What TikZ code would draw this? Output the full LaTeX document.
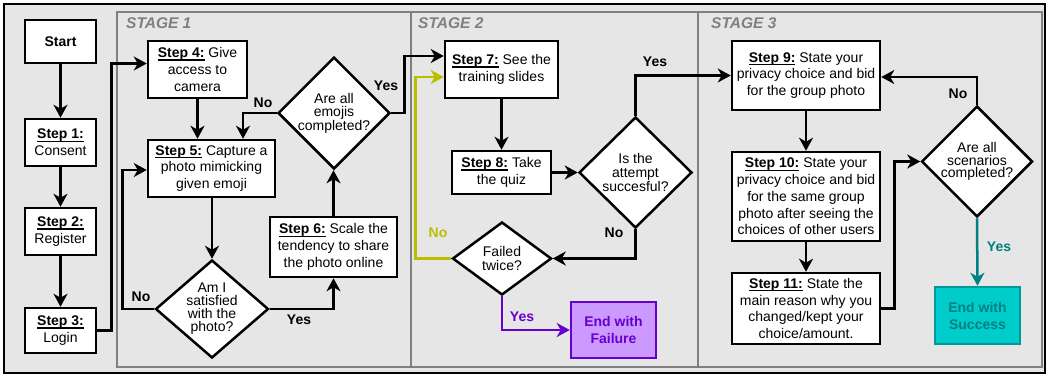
\documentclass[tikz,border=0pt]{standalone}
\usepackage{fontspec}
\setmainfont{Liberation Sans}
\usetikzlibrary{arrows.meta,shapes.geometric}
\definecolor{bggrey}{HTML}{E6E6E6}
\definecolor{stagegrey}{HTML}{808080}
\definecolor{olivey}{HTML}{BDBD00}
\definecolor{purp}{HTML}{6600CC}
\definecolor{purpfill}{HTML}{CC99FF}
\definecolor{tealline}{HTML}{008080}
\definecolor{succfill}{HTML}{00CCCC}
\definecolor{succborder}{HTML}{009999}
\newcommand\stp[1]{\textbf{\setbox0\hbox{#1}\rlap{\rule[-3pt]{\wd0}{1.3pt}}\box0}}
\begin{document}
\begin{tikzpicture}[x=1pt,y=-1pt,
  box/.style={draw, fill=white, line width=2.5pt, align=center, inner sep=0pt,
    font=\fontsize{14}{16.8}\selectfont},
  dia/.style={draw, fill=white, line width=2.5pt, shape=diamond, inner sep=0pt},
  dtext/.style={align=center, inner sep=0pt},
  arr/.style={line width=2.5pt, -{Stealth[length=13pt,width=14pt,inset=4pt]}},
  lab/.style={font=\fontsize{14}{16}\selectfont\bfseries, inner sep=0pt},
  stagebox/.style={draw=stagegrey, line width=2.5pt},
  stagelab/.style={font=\fontsize{15.5}{18}\selectfont\bfseries\itshape, text=stagegrey, anchor=west, inner sep=0pt}
]
\useasboundingbox (0,0) rectangle (1048,376);
\draw[line width=2.5pt, fill=bggrey] (4,4) rectangle (1045,373);
\draw[stagebox] (117,12) rectangle (411,367);
\draw[stagebox] (411,12) rectangle (698,367);
\draw[stagebox] (698,12) rectangle (1042,367);
\node[stagelab] (st1) at (126,23) {STAGE 1};
\node[stagelab] (st2) at (418,23) {STAGE 2};
\node[stagelab] (st3) at (711,23) {STAGE 3};

% boxes
\node[box, minimum width=71, minimum height=43] (start) at (60.5,41.5) {\textbf{Start}};
\node[box, minimum width=71, minimum height=47] (s1) at (60.5,142.5) {\stp{Step 1:}\\Consent};
\node[box, minimum width=71, minimum height=47] (s2) at (60.5,231.5) {\stp{Step 2:}\\Register};
\node[box, minimum width=71, minimum height=45] (s3) at (60.5,330.5) {\stp{Step 3:}\\Login};
\node[box, minimum width=99, minimum height=57] (s4) at (197.5,69.5) {\stp{Step 4:} Give\\access to\\camera};
\node[box, minimum width=127, minimum height=57] (s5) at (211.5,168.5) {\stp{Step 5:} Capture a\\photo mimicking\\given emoji};
\node[box, minimum width=127, minimum height=60] (s6) at (333.5,247) {\stp{Step 6:} Scale the\\tendency to share\\the photo online};
\node[box, minimum width=113, minimum height=57] (s7) at (501.5,69.5) {\stp{Step 7:} See the\\training slides};
\node[box, minimum width=99, minimum height=43] (s8) at (501.5,172.5) {\stp{Step 8:} Take\\the quiz};
\node[box, minimum width=148, minimum height=69] (s9) at (806,75.5) {\stp{Step 9:} State your\\privacy choice and bid\\for the group photo};
\node[box, minimum width=148, minimum height=89, font=\fontsize{14}{16.7}\selectfont] (s10) at (806,196.5) {\stp{Step 10:} State your\\privacy choice and bid\\for the same group\\photo after seeing the\\choices of other users};
\node[box, minimum width=148, minimum height=71] (s11) at (806,308.5) {\stp{Step 11:} State the\\main reason why you\\changed/kept your\\choice/amount.};
\node[box, minimum width=85, minimum height=56, draw=purp, fill=purpfill, text=purp, font=\fontsize{14}{17}\selectfont\bfseries] (fail) at (613.5,330) {End with\\Failure};
\node[box, minimum width=85, minimum height=57, draw=succborder, fill=succfill, text=tealline, font=\fontsize{14}{17}\selectfont\bfseries] (succ) at (977.5,315.5) {End with\\Success};

% diamonds
\node[dia, minimum width=112, minimum height=112,
  label={[dtext, font=\fontsize{14}{13}\selectfont]center:Are all\\emojis\\completed?}] (d1) at (334,113) {};
\node[dia, minimum width=113, minimum height=98,
  label={[dtext, font=\fontsize{14}{13}\selectfont]center:Am I\\satisfied\\with the\\photo?}] (d2) at (212,309) {};
\node[dia, minimum width=113, minimum height=111,
  label={[dtext, font=\fontsize{14}{14}\selectfont]center:Is the\\attempt\\succesful?}] (d3) at (635.5,172.5) {};
\node[dia, minimum width=99, minimum height=73,
  label={[dtext, font=\fontsize{14}{14.3}\selectfont]center:Failed\\twice?}] (d4) at (502,258.5) {};
\node[dia, minimum width=111, minimum height=111,
  label={[dtext, font=\fontsize{14}{12.2}\selectfont]center:Are all\\scenarios\\completed?}] (d5) at (977,161.5) {};

% connectors
\draw[arr] (start.south) -- (s1.north);
\draw[arr] (s1.south) -- (s2.north);
\draw[arr] (s2.south) -- (s3.north);
\draw[arr] (s3.east) -- ++(14,0) |- ([yshift=6pt]s4.west);
\draw[arr] (s4.south) -- (s5.north -| s4.south);
\draw[arr] (d1.west) -| ([xshift=31.5pt]s5.north);
\draw[arr] (s5.south -| d2.north) -- (d2.north);
\draw[arr] (d2.west) -- ++(-32,0) |- ([yshift=-1.5pt]s5.west);
\draw[arr] (d2.east) -| (s6.south);
\draw[arr] (s6.north) -- (s6.north |- d1.south);
\draw[arr] (d1.east) -- ++(13,0) |- ([yshift=13.5pt]s7.west);
\draw[arr] (s7.south) -- (s8.north);
\draw[arr] (s8.east) -- (d3.west);
\draw[arr] (d3.north) |- (s9.west);
\draw[arr] (d3.south) |- (d4.east);
\draw[arr, color=olivey] (d4.west) -- ++(-36,0) |- ([yshift=-7.5pt]s7.west);
\draw[arr, color=purp] (d4.south) |- (fail.west);
\draw[arr] (s9.south) -- (s10.north);
\draw[arr] (s10.south) -- (s11.north);
\draw[arr] (s11.east) -- ++(13,0) |- (d5.west);
\draw[arr] (d5.north) |- ([yshift=-1.5pt]s9.east);
\draw[arr, color=tealline] (d5.south) -- (succ.north);

% labels
\node[lab] (l1) at (263,103) {No};
\node[lab] (l2) at (141,297) {No};
\node[lab] (l3) at (299,320) {Yes};
\node[lab] (l4) at (386,86) {Yes};
\node[lab] (l5) at (655,62) {Yes};
\node[lab] (l6) at (614,233) {No};
\node[lab, text=olivey] (l7) at (438,233) {No};
\node[lab, text=purp] (l8) at (522,317) {Yes};
\node[lab] (l9) at (958,94) {No};
\node[lab, text=tealline] (l10) at (999,247) {Yes};
\end{tikzpicture}
\end{document}
